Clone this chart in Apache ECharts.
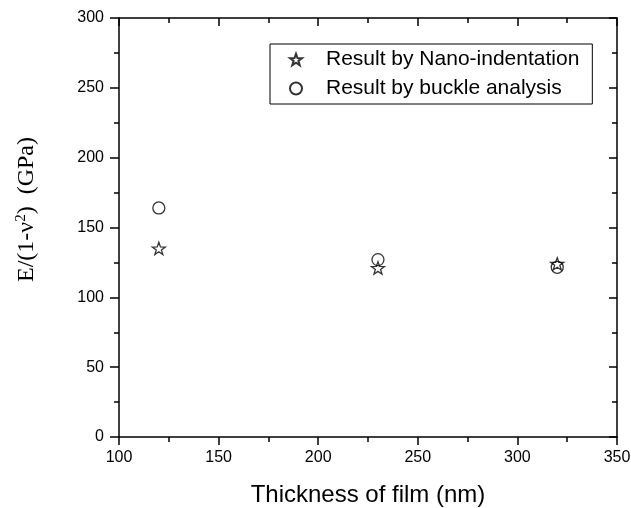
<!DOCTYPE html>
<html>
<head>
<meta charset="utf-8">
<script src="https://cdn.jsdelivr.net/npm/echarts@6/dist/echarts.min.js"></script>
<style>html,body{margin:0;padding:0;background:#fff;}#c{width:631px;height:508px;}</style>
</head>
<body>
<div id="c"></div>
<script>
var thickness = [120, 230, 320];
var nanoIndentation = [135, 121, 124];
var buckleAnalysis = [164, 127, 121.5];
var xTicks = [100, 150, 200, 250, 300, 350];
var yTicks = [0, 50, 100, 150, 200, 250, 300];
var seriesNames = ['Result by Nano-indentation', 'Result by buckle analysis'];

var STAR = 'path://M0,-100L23.5,-32.4L95.1,-30.9L38,12.4L58.8,80.9L0,40L-58.8,80.9L-38,12.4L-95.1,-30.9L-23.5,-32.4Z';
var font = 'Arial, "Liberation Sans", sans-serif';
var serif = '"Liberation Serif", "Times New Roman", serif';

function pairs(xs, ys){ return xs.map(function(x,i){ return [x, ys[i]]; }); }

var chart = echarts.init(document.getElementById('c'), null, {renderer:'canvas'});
var axisLine = {show:true, onZero:false, lineStyle:{color:'#000', width:1.5}};
var tickStyle = {color:'#000', width:1.5};
var baseX = {type:'value', min:xTicks[0], max:xTicks[xTicks.length-1], interval:50, splitLine:{show:false}, axisLine:axisLine};
var baseY = {type:'value', min:yTicks[0], max:yTicks[yTicks.length-1], interval:50, splitLine:{show:false}, axisLine:axisLine};

chart.setOption({
  animation:false,
  backgroundColor:'#fff',
  grid:{left:119, right:14, top:18, bottom:71, containLabel:false, outerBoundsMode:'none'},
  legend:{
    left:270, top:44, orient:'vertical',
    padding:[5,13,5,19], itemGap:8,
    itemWidth:12, itemHeight:12,
    borderColor:'#000', borderWidth:1,
    textStyle:{fontFamily:font, fontSize:21, color:'#000', padding:[0,0,0,19]},
    data:[{name:seriesNames[0], icon:STAR},{name:seriesNames[1], icon:'circle'}]
  },
  xAxis:[
    Object.assign({}, baseX, {
      position:'bottom',
      axisTick:{show:true, inside:false, length:8, lineStyle:tickStyle},
      minorTick:{show:true, splitNumber:2, length:5, lineStyle:tickStyle},
      axisLabel:{color:'#000', fontFamily:font, fontSize:16, margin:13},
      name:'Thickness of film (nm)', nameLocation:'middle', nameGap:46,
      nameTextStyle:{fontFamily:font, fontSize:24, color:'#000'}
    }),
    Object.assign({}, baseX, {
      position:'top',
      axisTick:{show:true, inside:true, length:8, lineStyle:tickStyle},
      minorTick:{show:true, splitNumber:2, length:5, lineStyle:tickStyle},
      axisLabel:{show:false}
    })
  ],
  yAxis:[
    Object.assign({}, baseY, {
      position:'left',
      axisTick:{show:true, inside:false, length:9, lineStyle:tickStyle},
      minorTick:{show:true, splitNumber:2, length:5, lineStyle:tickStyle},
      axisLabel:{color:'#000', fontFamily:font, fontSize:16, margin:15},
      name:'{a|E/(1-ν}{s|2}{a|)  (GPa)}', nameLocation:'middle', nameGap:80,
      nameTextStyle:{
        padding:[0,0,0,36],
        rich:{
          a:{fontFamily:serif, fontSize:24, color:'#000'},
          s:{fontFamily:serif, fontSize:15, color:'#000', verticalAlign:'top', padding:[0,0,10,0]}
        }
      }
    }),
    Object.assign({}, baseY, {
      position:'right',
      axisTick:{show:true, inside:true, length:8, lineStyle:tickStyle},
      minorTick:{show:true, splitNumber:2, length:5, lineStyle:tickStyle},
      axisLabel:{show:false}
    })
  ],
  series:[
    {
      name:seriesNames[0], type:'scatter', xAxisIndex:0, yAxisIndex:0,
      symbol:STAR, symbolSize:13, symbolKeepAspect:true,
      itemStyle:{color:'rgba(255,255,255,0)', borderColor:'#000', borderWidth:1.3},
      data:pairs(thickness, nanoIndentation)
    },
    {
      name:seriesNames[1], type:'scatter', xAxisIndex:0, yAxisIndex:0,
      symbol:'circle', symbolSize:12,
      itemStyle:{color:'rgba(255,255,255,0)', borderColor:'#000', borderWidth:1.3},
      data:pairs(thickness, buckleAnalysis)
    }
  ]
});
</script>
</body>
</html>
